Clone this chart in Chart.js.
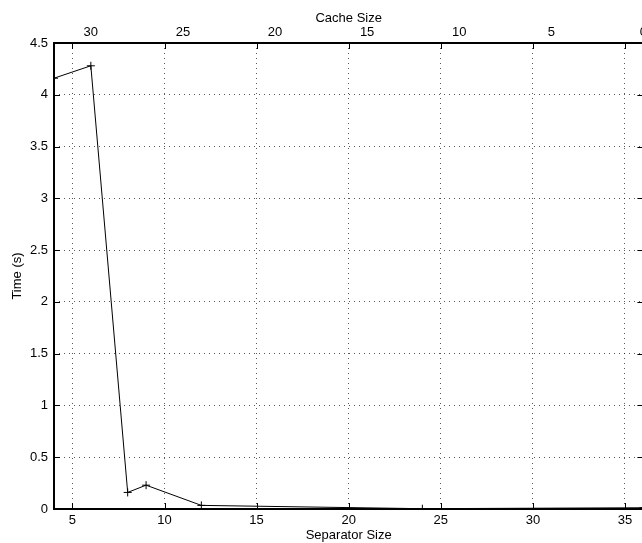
<!DOCTYPE html>
<html>
<head>
<meta charset="utf-8">
<script src="https://cdn.jsdelivr.net/npm/chart.js@4/dist/chart.umd.min.js"></script>
<style>
  html, body { margin: 0; padding: 0; background: #fff; overflow: hidden; }
  canvas { display: block; }
</style>
</head>
<body>
<canvas id="chart" width="650" height="543"></canvas>
<script>
// separator size (bottom axis) and measured time
const separatorSize = [4, 6, 8, 9, 12, 24, 36];
const timeSec = [4.16, 4.28, 0.16, 0.23, 0.035, 0.003, 0.012];

const xTicks = [5, 10, 15, 20, 25, 30, 35];
const cacheTicks = [30, 25, 20, 15, 10, 5, 0];
const yTicks = [0, 0.5, 1, 1.5, 2, 2.5, 3, 3.5, 4, 4.5];

const FONT = { family: "'Liberation Sans', Arial, sans-serif", size: 13 };

// ticks pointing inward + thick box, the matlab way
const boxPlugin = {
    id: "box",
    afterDraw(chart) {
        const { ctx, chartArea: a, scales } = chart;
        ctx.save();
        ctx.strokeStyle = "#000";
        ctx.lineWidth = 1;
        ctx.beginPath();
        xTicks.forEach(v => {
            const px = Math.round(scales.x.getPixelForValue(v)) + 0.5;
            ctx.moveTo(px, a.bottom); ctx.lineTo(px, a.bottom - 6);
            ctx.moveTo(px, a.top); ctx.lineTo(px, a.top + 6);
        });
        yTicks.forEach(v => {
            const py = Math.round(scales.y.getPixelForValue(v)) + 0.5;
            ctx.moveTo(a.left, py); ctx.lineTo(a.left + 6, py);
            ctx.moveTo(a.right, py); ctx.lineTo(a.right - 6, py);
        });
        ctx.stroke();
        ctx.lineWidth = 2;
        ctx.strokeRect(a.left, a.top, a.right - a.left, a.bottom - a.top);
        ctx.restore();
    }
};

new Chart(document.getElementById("chart"), {
    type: "line",
    data: {
        datasets: [{
            data: separatorSize.map((s, i) => ({ x: s, y: timeSec[i] })),
            borderColor: "#000",
            borderWidth: 1,
            tension: 0,
            fill: false,
            pointStyle: "cross",
            pointRadius: 4,
            pointBorderColor: "#000",
            pointBorderWidth: 1,
            xAxisID: "x",
            yAxisID: "y"
        }]
    },
    options: {
        responsive: false,
        animation: false,
        layout: { padding: { left: 0, right: 6, top: 0, bottom: 0 } },
        plugins: { legend: { display: false }, tooltip: { enabled: false } },
        scales: {
            x: {
                type: "linear",
                position: "bottom",
                min: 4, max: 36,
                afterBuildTicks: s => { s.ticks = xTicks.map(v => ({ value: v })); },
                afterFit: s => { s.height = 34; },
                ticks: { color: "#000", font: FONT, padding: 4, autoSkip: false, maxRotation: 0 },
                grid: { color: "rgba(0,0,0,0.65)", lineWidth: 1, drawTicks: false },
                border: { display: false, dash: [1, 4] },
                title: { display: true, text: "Separator Size", color: "#000", font: FONT, padding: { top: 0, bottom: 0 } }
            },
            x2: {
                type: "linear",
                position: "top",
                reverse: true,
                min: 0, max: 32,
                afterBuildTicks: s => { s.ticks = cacheTicks.map(v => ({ value: v })); },
                afterFit: s => { s.height = 43; },
                ticks: { color: "#000", font: FONT, padding: 3, autoSkip: false, maxRotation: 0 },
                grid: { drawOnChartArea: false, drawTicks: false },
                border: { display: false },
                title: { display: true, text: "Cache Size", color: "#000", font: FONT, padding: { top: 11, bottom: 0 } }
            },
            y: {
                type: "linear",
                position: "left",
                min: 0, max: 4.5,
                afterBuildTicks: s => { s.ticks = yTicks.map(v => ({ value: v })); },
                afterFit: s => { s.width = 54; },
                ticks: { color: "#000", font: FONT, padding: 6, callback: v => String(v) },
                grid: { color: "rgba(0,0,0,0.65)", lineWidth: 1, drawTicks: false },
                border: { display: false, dash: [1, 4] },
                title: { display: true, text: "Time (s)", color: "#000", font: FONT, padding: { top: 10, bottom: 0 } }
            }
        }
    },
    plugins: [boxPlugin]
});
</script>
</body>
</html>
